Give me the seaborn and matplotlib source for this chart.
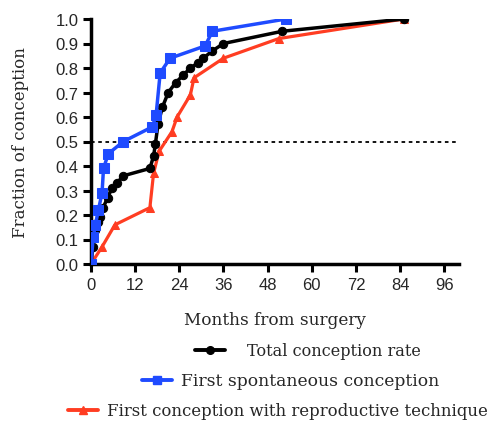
import matplotlib
matplotlib.use("Agg")
import matplotlib.pyplot as plt
import seaborn as sns
import pandas as pd
from matplotlib.lines import Line2D

# Data
total_x = [0, 0.5, 1.0, 1.8, 2.5, 3.3, 4.5, 5.7, 7.0, 8.8, 16.0, 17.0, 17.5, 18.2, 19.4, 21.0, 23.0, 25.0, 27.0, 29.0, 30.5, 33.0, 36.0, 52.0, 85.0]
total_y = [0, 0.07, 0.14, 0.17, 0.19, 0.23, 0.27, 0.31, 0.33, 0.36, 0.39, 0.44, 0.49, 0.57, 0.64, 0.70, 0.74, 0.77, 0.80, 0.82, 0.84, 0.87, 0.90, 0.95, 1.00]

spont_x = [0, 0.6, 1.2, 2.0, 3.0, 3.4, 4.7, 8.8, 16.7, 17.7, 18.8, 21.5, 31.0, 33.0, 53.0]
spont_y = [0, 0.11, 0.16, 0.22, 0.29, 0.39, 0.45, 0.50, 0.56, 0.61, 0.78, 0.84, 0.89, 0.95, 1.00]

repro_x = [0, 3.0, 6.5, 16.0, 17.0, 18.5, 22.0, 23.4, 27.0, 28.0, 36.0, 51.0, 85.0]
repro_y = [0, 0.07, 0.16, 0.23, 0.37, 0.46, 0.54, 0.60, 0.69, 0.76, 0.84, 0.92, 1.00]

labels = ["Total conception rate", "First spontaneous conception",
          "First conception with reproductive technique"]
xticks = [0, 12, 24, 36, 48, 60, 72, 84, 96]
yticks = [0.0, 0.1, 0.2, 0.3, 0.4, 0.5, 0.6, 0.7, 0.8, 0.9, 1.0]

sns.set_style("ticks")
plt.rcParams["font.family"] = ["Liberation Sans", "DejaVu Sans"]

fig = plt.figure(figsize=(5.02, 4.27), dpi=100)
ax = fig.add_axes([91/502, 1-265/427, (459-91)/502, (265-20)/427])

black = "#000000"
blue = "#1f4bff"
red = "#ff3d22"

df_t = pd.DataFrame({"x": total_x, "y": total_y})
df_s = pd.DataFrame({"x": spont_x, "y": spont_y})
df_r = pd.DataFrame({"x": repro_x, "y": repro_y})

ax.axhline(0.5, color="black", lw=1.3, ls=(0, (2, 2)), zorder=1)

sns.lineplot(data=df_r, x="x", y="y", ax=ax, color=red, lw=2.3, marker="^",
             markersize=5.5, markeredgecolor=red, sort=False, zorder=3)
sns.lineplot(data=df_t, x="x", y="y", ax=ax, color=black, lw=2.5, marker="o",
             markersize=6, markeredgecolor=black, sort=False, zorder=4)
sns.lineplot(data=df_s, x="x", y="y", ax=ax, color=blue, lw=2.5, marker="s",
             markersize=6.5, markeredgecolor=blue, sort=False, zorder=5)

ax.set_xlim(0, 100)
ax.set_ylim(0, 1.0)
ax.set_xticks(xticks)
ax.set_yticks(yticks)
ax.set_yticklabels([f"{v:.1f}" for v in yticks])
ax.tick_params(axis="both", length=6, width=2.2, labelsize=12, direction="out",
               color="black", pad=3)
for s in ["top", "right"]:
    ax.spines[s].set_visible(False)
for s in ["left", "bottom"]:
    ax.spines[s].set_linewidth(2.5)
    ax.spines[s].set_color("black")

serif = ["DejaVu Serif"]
ax.set_xlabel("Months from surgery", family=serif, fontsize=12.2, labelpad=14)
ax.set_ylabel("Fraction of conception", family=serif, fontsize=12, labelpad=19)

entries = [
    (black, "o", labels[0], 195/502, 1-352/427, 11.6, 1.35),
    (blue, "s", labels[1], 142/502, 1-382/427, 12.3, 0.5),
    (red, "^", labels[2], 68/502, 1-412/427, 11.9, 0.55),
]
for col, mk, lab, lx, ly, fs, pad in entries:
    h = Line2D([], [], color=col, lw=2.8, marker=mk, markersize=5.5,
               markeredgecolor=col)
    fig.legend(handles=[h], labels=[lab], loc="center left",
               bbox_to_anchor=(lx, ly), frameon=False,
               prop={"family": serif, "size": fs},
               handlelength=30/(fs*100/72), handletextpad=pad,
               borderpad=0, borderaxespad=0)

fig.savefig("out.png", dpi=100)
